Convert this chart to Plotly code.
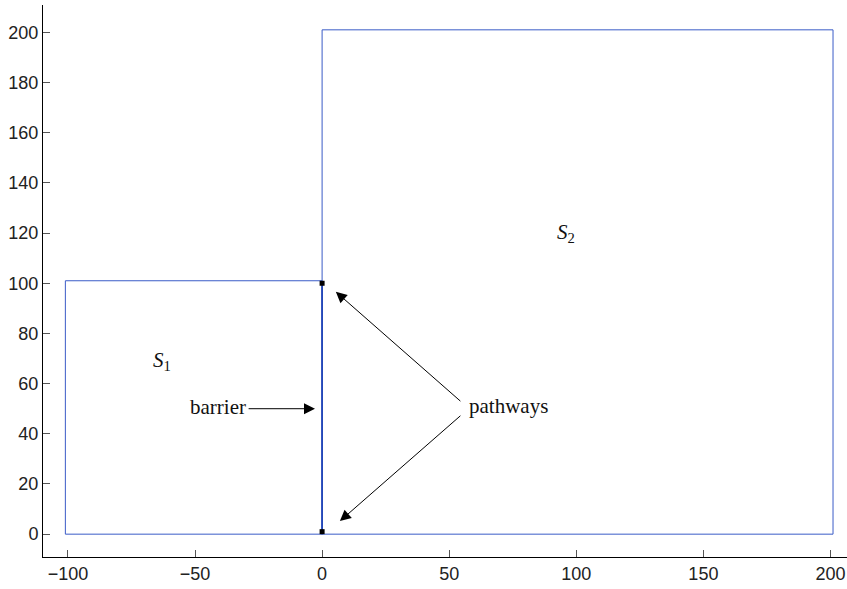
import plotly.graph_objects as go

# Region outlines
s1_x = [-101, 0, 0, -101, -101]
s1_y = [0, 0, 101, 101, 0]
s2_x = [0, 201, 201, 0, 0]
s2_y = [0, 0, 201, 201, 0]
barrier_x = [0, 0]
barrier_y = [0, 100]
pathway_x = [0, 0]
pathway_y = [100, 1]

x_ticks = [-100, -50, 0, 50, 100, 150, 200]
y_ticks = [0, 20, 40, 60, 80, 100, 120, 140, 160, 180, 200]

blue = "#3a5bc7"
fig = go.Figure()
fig.add_trace(go.Scatter(x=s1_x, y=s1_y, mode="lines", line=dict(color=blue, width=1), hoverinfo="skip"))
fig.add_trace(go.Scatter(x=s2_x, y=s2_y, mode="lines", line=dict(color=blue, width=1), hoverinfo="skip"))
fig.add_trace(go.Scatter(x=barrier_x, y=barrier_y, mode="lines", line=dict(color="#2447b8", width=1.8), hoverinfo="skip"))
fig.add_trace(go.Scatter(x=pathway_x, y=pathway_y, mode="markers",
                         marker=dict(symbol="square", size=5, color="black"), hoverinfo="skip"))

serif = "Liberation Serif"
fig.add_annotation(x=-63, y=69, text="<i>S</i><sub>1</sub>", showarrow=False,
                   font=dict(family=serif, size=21, color="#111"))
fig.add_annotation(x=96, y=120, text="<i>S</i><sub>2</sub>", showarrow=False,
                   font=dict(family=serif, size=21, color="#111"))
fig.add_annotation(x=-29.3, y=50.5, text="barrier", showarrow=False, xanchor="right",
                   font=dict(family=serif, size=21, color="#111"))
fig.add_annotation(x=-2.8, y=50, ax=-29.5, ay=50, axref="x", ayref="y", xref="x", yref="y",
                   text="", showarrow=True, arrowhead=2, arrowsize=2.2, arrowwidth=1, arrowcolor="black")
fig.add_annotation(x=57, y=51, text="pathways", showarrow=False, xanchor="left",
                   font=dict(family=serif, size=21, color="#111"))
fig.add_annotation(x=5.4, y=96.6, ax=55, ay=52.5, axref="x", ayref="y", xref="x", yref="y",
                   text="", showarrow=True, arrowhead=2, arrowsize=2.2, arrowwidth=1, arrowcolor="black")
fig.add_annotation(x=7, y=5.2, ax=55, ay=47.7, axref="x", ayref="y", xref="x", yref="y",
                   text="", showarrow=True, arrowhead=2, arrowsize=2.2, arrowwidth=1, arrowcolor="black")

axis_font = dict(family="Liberation Sans", size=18, color="#222")
fig.update_layout(
    width=847, height=589, showlegend=False,
    paper_bgcolor="white", plot_bgcolor="white",
    margin=dict(l=43, r=0, t=5, b=32),
    xaxis=dict(range=[-109.8, 206.5], tickvals=x_ticks, ticks="inside", ticklen=7, tickcolor="#555",
               showline=True, linecolor="black", linewidth=1, showgrid=False, zeroline=False,
               tickfont=axis_font, automargin=False),
    yaxis=dict(range=[-9.1, 210.9], tickvals=y_ticks, ticks="inside", ticklen=7, tickcolor="#555",
               showline=True, linecolor="black", linewidth=1, showgrid=False, zeroline=False,
               tickfont=axis_font, automargin=False),
)
fig.write_html("out.html", config={"displayModeBar": False},
               post_script="document.body.style.margin='0';document.body.style.overflow='hidden';")
